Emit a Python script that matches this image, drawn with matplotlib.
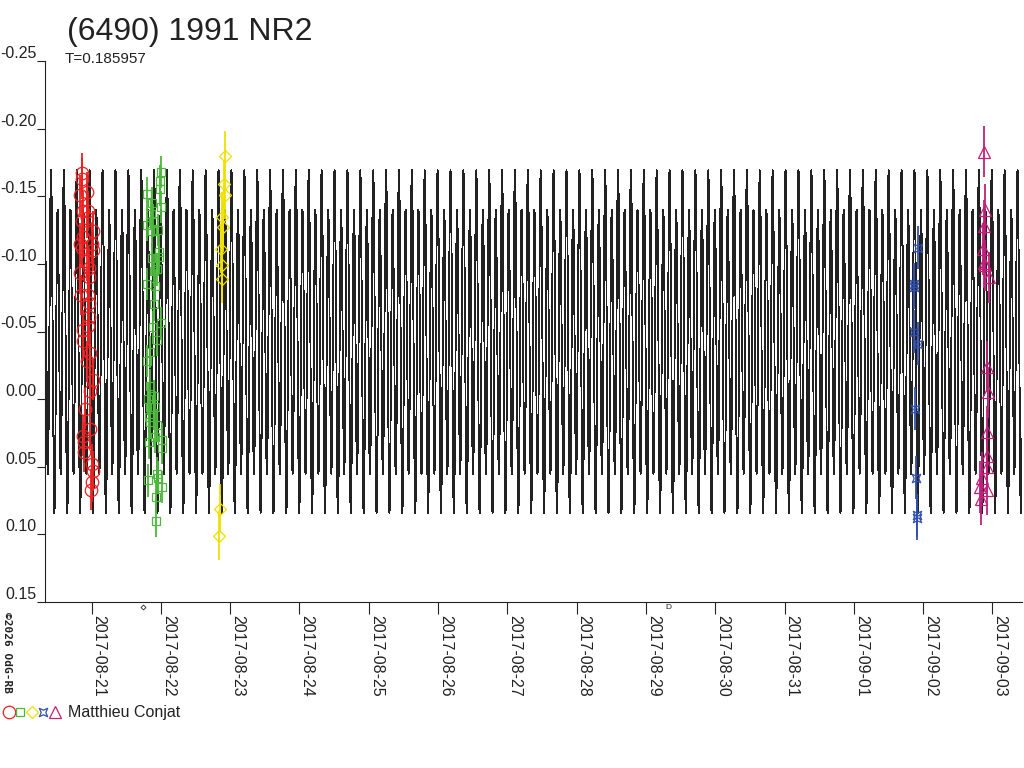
import numpy as np
import matplotlib
matplotlib.use('Agg')
import matplotlib.pyplot as plt
import matplotlib.dates as mdates
from matplotlib.path import Path
from matplotlib.lines import Line2D
from matplotlib.legend_handler import HandlerTuple
from datetime import datetime

plt.rcParams['font.family'] = ['Liberation Sans', 'DejaVu Sans']

title = "(6490) 1991 NR2"
period_text = "T=0.185957"
observer = "Matthieu Conjat"

# model lightcurve (days, mag)
period = 0.185957
epoch = 0.02
fourier_c0 = -0.0425
fourier_cos = [0.0145, 0.112]
fourier_sin = [0.0145, 0.0]

# observations: time in days after 2017-08-21 00:00, relative magnitude
red_t = [-0.134, -0.134, -0.062, -0.167, -0.128, -0.048, -0.071, -0.143, 0.025, -0.120,
         -0.167, 0.001, -0.143, 0.025, -0.071, -0.033, -0.167, -0.033, -0.157, -0.048,
         -0.033, -0.033, -0.048, -0.128, -0.120, -0.023, -0.071, 0.025, -0.023, -0.095,
         -0.023, -0.120, -0.105, -0.110, 0.001, 0.016, 0.001, -0.013]
red_mag = [-0.167, -0.163, -0.153, -0.151, -0.139, -0.139, -0.134, -0.132, -0.124, -0.120,
           -0.115, -0.115, -0.112, -0.110, -0.102, -0.097, -0.093, -0.090, -0.077, -0.077,
           -0.071, -0.061, -0.054, -0.051, -0.043, -0.034, -0.028, -0.014, -0.006, 0.007,
           0.022, 0.027, 0.032, 0.039, 0.048, 0.053, 0.061, 0.067]
red_err = 0.015

green_t = [0.804, 0.867, 0.997, 0.987, 0.987, 0.853, 0.882, 0.804, 0.997, 0.962,
           0.867, 0.973, 0.973, 0.867, 0.948, 0.900, 0.804, 0.915, 0.900, 0.997,
           0.890, 0.948, 0.843, 0.804, 0.843, 0.905, 0.818, 0.843, 0.915, 0.833,
           0.843, 0.939, 0.824, 0.915, 1.012, 1.012, 0.939, 0.818, 0.962, 1.012,
           0.929, 0.929]
green_mag = [-0.152, -0.145, -0.168, -0.161, -0.155, -0.137, -0.132, -0.129, -0.142, -0.125,
             -0.124, -0.109, -0.105, -0.104, -0.096, -0.095, -0.085, -0.084, -0.070, -0.056,
             -0.053, -0.044, -0.035, -0.028, -0.010, -0.002, 0.000, 0.006, 0.006, 0.013,
             0.017, 0.019, 0.032, 0.028, 0.030, 0.036, 0.055, 0.060, 0.058, 0.065,
             0.072, 0.090]
green_err = 0.012

yellow_t = [1.925, 1.915, 1.925, 1.880, 1.890, 1.868, 1.880, 1.880, 1.851, 1.838]
yellow_mag = [-0.180, -0.159, -0.151, -0.135, -0.127, -0.111, -0.099, -0.089, 0.081, 0.101]
yellow_err = 0.018

blue_t = [11.929, 11.867, 11.871, 11.871, 11.929, 11.882, 11.896, 11.906, 11.906]
blue_mag = [-0.112, -0.085, -0.083, -0.050, -0.041, 0.007, 0.058, 0.086, 0.088]
blue_err = 0.016

magenta_t = [12.882, 12.896, 12.882, 12.867, 12.877, 12.896, 12.954, 12.916, 12.931, 12.916,
             12.925, 12.925, 12.844, 12.820, 12.925, 12.834]
magenta_mag = [-0.183, -0.140, -0.128, -0.111, -0.101, -0.099, -0.090, -0.024, -0.005, 0.024,
               0.042, 0.050, 0.058, 0.065, 0.067, 0.074]
magenta_err = 0.019

ytick_vals = [-0.25, -0.20, -0.15, -0.10, -0.05, 0.00, 0.05, 0.10, 0.15]
ytick_labels = ["-0.25", "-0.20", "-0.15", "-0.10", "-0.05", "0.00", "0.05", "0.10", "0.15"]

xlim_days = (-0.672, 13.426)
ylim_mag = (0.15, -0.25)

# pinched square marker (blue)
pinch = Path([(-1, -1), (0, -0.55), (1, -1), (0.55, 0), (1, 1), (0, 0.55), (-1, 1), (-0.55, 0), (-1, -1)],
             [Path.MOVETO] + [Path.LINETO] * 7 + [Path.CLOSEPOLY])

series = [
    (red_t, red_mag, red_err, '#ee2020', 'o', 9),
    (green_t, green_mag, green_err, '#4cb83c', 's', 5.5),
    (yellow_t, yellow_mag, yellow_err, '#f0e000', 'D', 6.5),
    (blue_t, blue_mag, blue_err, '#3050b0', pinch, 6),
    (magenta_t, magenta_mag, magenta_err, '#c0207a', '^', 8),
]

base = mdates.date2num(datetime(2017, 8, 21))

fig = plt.figure(figsize=(10.24, 7.68), dpi=100)
ax = fig.add_axes([45 / 1024, 1 - 602 / 768, 977 / 1024, 541 / 768])

# model curve
t = np.arange(xlim_days[0], xlim_days[1], 0.001)
phase = 2 * np.pi * (t - epoch) / period
model = fourier_c0 + np.zeros_like(t)
for k in range(len(fourier_cos)):
    model += fourier_cos[k] * np.cos((k + 1) * phase) + fourier_sin[k] * np.sin((k + 1) * phase)
ax.plot(base + t, model, color='#222222', lw=0.6, antialiased=False, zorder=1)

for ts, ms_, err, col, mk, size in series:
    ax.errorbar(base + np.array(ts), ms_, yerr=err, fmt='none', ecolor=col, elinewidth=1.3,
                capsize=0, zorder=2)
    ax.plot(base + np.array(ts), ms_, ls='none', marker=mk, ms=size, mfc='none', mec=col,
            mew=0.9, zorder=3)

ax.set_xlim(base + xlim_days[0], base + xlim_days[1])
ax.set_ylim(*ylim_mag)

ax.set_yticks(ytick_vals)
ax.set_yticklabels(ytick_labels)
for lab in ax.get_yticklabels():
    lab.set_va('bottom')

ax.xaxis.set_major_locator(mdates.DayLocator())
ax.xaxis.set_major_formatter(mdates.DateFormatter('%Y-%m-%d'))
for lab in ax.get_xticklabels():
    lab.set_rotation(-90)
    lab.set_ha('left')
    lab.set_va('top')

ax.tick_params(axis='y', direction='out', length=6, width=0.8, pad=0, labelsize=11.5,
               colors='#222222')
ax.tick_params(axis='x', direction='out', length=8.5, width=0.8, pad=1, labelsize=11.5,
               colors='#222222')
for side in ['top', 'right']:
    ax.spines[side].set_visible(False)
for side in ['left', 'bottom']:
    ax.spines[side].set_color('#222222')
    ax.spines[side].set_linewidth(0.8)

# small marks under the axis
ax.plot([base + 0.742], [0.1537], marker='D', ms=2.5, mfc='none', mec='#222222', mew=0.6,
        clip_on=False)
ax.text(base + 8.33, 0.1537, 'D', fontsize=6, color='#222222', ha='center', va='center',
        clip_on=False)

fig.text(67 / 1024, 1 - 40 / 768, title, fontsize=23, color='#222222', va='baseline')
fig.text(65 / 1024, 1 - 63 / 768, period_text, fontsize=11, color='#222222', va='baseline')
fig.text(2 / 1024, 1 - 612 / 768, '\u00a92026 OdG-RB', fontsize=8, rotation=-90,
         ha='left', va='top', color='#222222', family='DejaVu Sans Mono', weight='bold')

handles = tuple(Line2D([], [], ls='none', marker=mk, ms=size, mfc='none', mec=col, mew=0.9)
                for _, _, _, col, mk, size in series)
fig.legend([handles], [observer], handler_map={tuple: HandlerTuple(ndivide=None, pad=0.0)},
           loc='center left', bbox_to_anchor=(3 / 1024, 1 - 713 / 768), frameon=False,
           handlelength=3.6, handletextpad=0.5, borderpad=0.0, borderaxespad=0.0,
           fontsize=11.5, labelcolor='#222222')

fig.savefig('out.png', dpi=100)
